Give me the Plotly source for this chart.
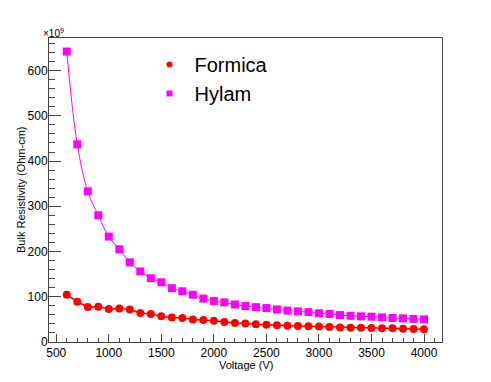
import plotly.graph_objects as go

voltage = [600, 700, 800, 900, 1000, 1100, 1200, 1300, 1400, 1500, 1600, 1700,
           1800, 1900, 2000, 2100, 2200, 2300, 2400, 2500, 2600, 2700, 2800,
           2900, 3000, 3100, 3200, 3300, 3400, 3500, 3600, 3700, 3800, 3900, 4000]

formica = [104.5, 89, 77.5, 78, 73, 74, 72, 64, 62, 57, 54, 53,
           49.5, 48.5, 47, 44, 42, 41, 39, 38.3, 36.8, 36, 35.3,
           34.6, 34, 33, 32, 31.6, 31.5, 31, 30.3, 30.2, 29.5, 28.8, 28]

hylam = [642, 437, 333, 280, 233, 205, 176, 156, 141, 132, 119, 112,
         104.5, 96, 90.5, 87.5, 83, 79.5, 77, 75, 72, 69.5, 67.7,
         66, 63.5, 62, 59.6, 58, 56.7, 56, 54.4, 53, 52.3, 51, 50]

x_ticks = [500, 1000, 1500, 2000, 2500, 3000, 3500, 4000]
y_ticks = [0, 100, 200, 300, 400, 500, 600]

FONT = "Liberation Sans, Arial, Helvetica, sans-serif"
AX = "#444444"

fig = go.Figure()
fig.add_trace(go.Scatter(x=voltage, y=formica, mode="lines+markers", name="Formica",
                         line=dict(color="#ff0000", width=1.5),
                         marker=dict(color="#ff0000", symbol="circle", size=8),
                         showlegend=False))
fig.add_trace(go.Scatter(x=voltage, y=hylam, mode="lines+markers", name="Hylam",
                         line=dict(color="#ff00ff", width=1, shape="spline"),
                         marker=dict(color="#ff00ff", symbol="square", size=8),
                         showlegend=False))
# legend entries (marker only)
fig.add_trace(go.Scatter(x=[None], y=[None], mode="markers", name="Formica",
                         marker=dict(color="#ff0000", symbol="circle", size=6)))
fig.add_trace(go.Scatter(x=[None], y=[None], mode="markers", name="Hylam",
                         marker=dict(color="#ff00ff", symbol="square", size=6)))

# the page body adds an 8px offset, so the figure is 8px smaller on each side
fig.update_layout(
    width=483, height=374,
    margin=dict(l=41, r=49, t=30, b=40, autoexpand=False),
    paper_bgcolor="white", plot_bgcolor="white",
    font=dict(family=FONT, size=11, color="black"),
    legend=dict(x=0.243, y=0.977, xanchor="left", yanchor="top",
                font=dict(size=20), bgcolor="rgba(0,0,0,0)",
                itemwidth=40, tracegroupgap=0),
    xaxis=dict(range=[431, 4171], tickvals=x_ticks, ticks="inside", ticklen=8,
               tickcolor=AX, showline=True, linecolor=AX, linewidth=1, mirror=True,
               showgrid=False, zeroline=False, automargin=False,
               tickfont=dict(size=12),
               minor=dict(dtick=100, tick0=0, ticks="inside", ticklen=4, tickcolor=AX)),
    yaxis=dict(range=[0, 672], tickvals=y_ticks, ticks="inside", ticklen=12,
               tickcolor=AX, showline=True, linecolor=AX, linewidth=1, mirror=True,
               showgrid=False, zeroline=False, automargin=False,
               tickfont=dict(size=12), ticklabelstandoff=-2,
               minor=dict(dtick=20, tick0=0, ticks="inside", ticklen=6, tickcolor=AX)),
    annotations=[
        dict(text="×10<sup>9</sup>", xref="paper", yref="paper",
             x=0, y=1, xanchor="center", yanchor="bottom",
             xshift=4, yshift=-3, showarrow=False, font=dict(size=10)),
        dict(text="Bulk Resistivity (Ohm-cm)", xref="paper", yref="paper",
             x=0, y=0.5, xanchor="center", yanchor="middle", textangle=-90,
             xshift=-28, showarrow=False, font=dict(size=11)),
        dict(text="Voltage (V)", xref="paper", yref="paper",
             x=0.5, y=0, xanchor="center", yanchor="middle",
             yshift=-23, showarrow=False, font=dict(size=11)),
    ],
)

fig.write_html("out.html")
